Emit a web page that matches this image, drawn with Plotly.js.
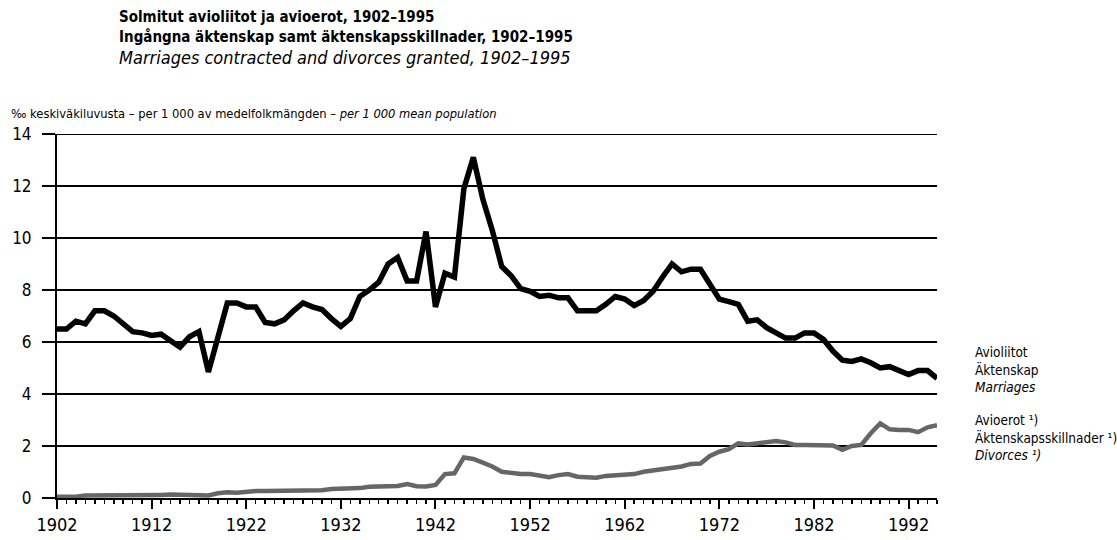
<!DOCTYPE html>
<html>
<head>
<meta charset="utf-8">
<script src="https://cdn.plot.ly/plotly-3.0.1.min.js"></script>
<style>
  html, body { margin: 0; padding: 0; background: #fff; }
  #chart { width: 1117px; height: 540px; }
  #chart text { font-stretch: condensed !important; }
</style>
</head>
<body>
<div id="chart"></div>
<script>
// ---- Data ----
const years = [];
for (let y = 1902; y <= 1995; y++) years.push(y);

const marriages = [
  6.5, 6.5, 6.8, 6.7, 7.2, 7.2, 7.0, 6.7, 6.4, 6.35,   // 1902-1911
  6.25, 6.3, 6.05, 5.8, 6.2, 6.4, 4.85, 6.2, 7.5, 7.5, // 1912-1921
  7.35, 7.35, 6.75, 6.7, 6.85, 7.2, 7.5, 7.35, 7.25, 6.9, // 1922-1931
  6.6, 6.9, 7.75, 8.0, 8.3, 9.0, 9.25, 8.35, 8.35, 10.25, // 1932-1941
  7.35, 8.65, 8.5, 11.9, 13.1, 11.5, 10.3, 8.9, 8.55, 8.05, // 1942-1951
  7.95, 7.75, 7.8, 7.7, 7.7, 7.2, 7.2, 7.2, 7.45, 7.75, // 1952-1961
  7.65, 7.4, 7.6, 7.95, 8.5, 9.0, 8.7, 8.8, 8.8, 8.2,   // 1962-1971
  7.65, 7.55, 7.45, 6.8, 6.85, 6.55, 6.35, 6.15, 6.15, 6.35, // 1972-1981
  6.35, 6.1, 5.65, 5.3, 5.25, 5.35, 5.2, 5.0, 5.05, 4.9, // 1982-1991
  4.75, 4.9, 4.9, 4.6                                    // 1992-1995
];

const divorces = [
  0.05, 0.03, 0.05, 0.1, 0.1, 0.08, 0.1, 0.1, 0.11, 0.12, // 1902-1911
  0.12, 0.12, 0.13, 0.13, 0.14, 0.12, 0.1, 0.18, 0.22, 0.2, // 1912-1921
  0.25, 0.27, 0.27, 0.27, 0.27, 0.27, 0.28, 0.3, 0.3, 0.35, // 1922-1931
  0.35, 0.35, 0.38, 0.43, 0.44, 0.44, 0.46, 0.54, 0.45, 0.44, // 1932-1941
  0.5, 0.92, 0.95, 1.56, 1.5, 1.36, 1.21, 1.01, 0.95, 0.92, // 1942-1951
  0.92, 0.85, 0.8, 0.88, 0.92, 0.82, 0.78, 0.78, 0.85, 0.88, // 1952-1961
  0.9, 0.92, 1.01, 1.05, 1.1, 1.14, 1.21, 1.31, 1.33, 1.62, // 1962-1971
  1.78, 1.88, 2.1, 2.06, 2.1, 2.14, 2.19, 2.14, 2.04, 2.04, // 1972-1981
  2.04, 2.04, 2.02, 1.85, 2.0, 2.04, 2.49, 2.87, 2.64, 2.62, // 1982-1991
  2.62, 2.53, 2.72, 2.8                                    // 1992-1995
];

const yTicks = [0, 2, 4, 6, 8, 10, 12, 14];
const xTicks = [1902, 1912, 1922, 1932, 1942, 1952, 1962, 1972, 1982, 1992];

const titleLines = [
  '<b>Solmitut avioliitot ja avioerot, 1902–1995</b>',
  '<b>Ingångna äktenskap samt äktenskapsskillnader, 1902–1995</b>',
  '<i>Marriages contracted and divorces granted, 1902–1995</i>'
];
const unitLabel = '‰ keskiväkiluvusta – per 1 000 av medelfolkmängden – <i>per 1 000 mean population</i>';
const marriagesLabel = 'Avioliitot<br>Äktenskap<br><i>Marriages</i>';
const divorcesLabel = 'Avioerot ¹)<br>Äktenskapsskillnader ¹)<br><i>Divorces ¹)</i>';

// ---- Layout geometry ----
const W = 1117, H = 540;
const L = 57, R = 937, T = 134, B = 498;
const px2x = px => (px - L) / (R - L);
const py2y = py => (B - py) / (B - T);
const FONT = '"DejaVu Sans Condensed", "DejaVu Sans", sans-serif';
const titleSizes = [15, 15, 18];

const traces = [
  {
    x: years, y: divorces, type: 'scatter', mode: 'lines',
    line: { color: '#666666', width: 4.5 },
    hoverinfo: 'skip', showlegend: false
  },
  {
    x: years, y: marriages, type: 'scatter', mode: 'lines',
    line: { color: '#000000', width: 5.5 },
    hoverinfo: 'skip', showlegend: false
  }
];

const ann = [];
titleLines.forEach((t, i) => {
  ann.push({
    text: t, xref: 'paper', yref: 'paper',
    x: px2x(117), y: py2y(17 + i * 20), xanchor: 'left', yanchor: 'middle',
    showarrow: false, font: { family: FONT, size: titleSizes[i], color: '#000' }
  });
});
ann.push({
  text: unitLabel, xref: 'paper', yref: 'paper',
  x: px2x(9), y: py2y(113), xanchor: 'left', yanchor: 'middle',
  showarrow: false, font: { family: FONT, size: 12.8, color: '#000' }
});
ann.push({
  text: marriagesLabel, xref: 'paper', yref: 'paper', align: 'left',
  x: px2x(973), y: py2y(369), xanchor: 'left', yanchor: 'middle',
  showarrow: false, font: { family: FONT, size: 13.5, color: '#000' }
});
ann.push({
  text: divorcesLabel, xref: 'paper', yref: 'paper', align: 'left',
  x: px2x(973), y: py2y(437), xanchor: 'left', yanchor: 'middle',
  showarrow: false, font: { family: FONT, size: 13.5, color: '#000' }
});

const layout = {
  width: W, height: H,
  margin: { l: L, r: W - R, t: T, b: H - B, pad: 0 },
  paper_bgcolor: '#fff', plot_bgcolor: '#fff',
  showlegend: false,
  font: { family: FONT, color: '#000' },
  xaxis: {
    range: [1902, 1995], tickvals: xTicks, ticktext: xTicks.map(String),
    showgrid: false, zeroline: false,
    showline: true, linecolor: '#000', linewidth: 2,
    ticks: 'outside', ticklen: 9, tickwidth: 2, tickcolor: '#000',
    tickfont: { family: FONT, size: 18, color: '#000' },
    minor: { dtick: 1, tick0: 1902, ticks: 'outside', ticklen: 4, tickwidth: 1.5, tickcolor: '#000', showgrid: false },
    fixedrange: true
  },
  yaxis: {
    range: [0, 14], tickvals: yTicks, ticktext: yTicks.map(String),
    showgrid: true, gridcolor: '#000', gridwidth: 2,
    zeroline: false,
    showline: true, linecolor: '#000', linewidth: 2,
    ticks: 'outside', ticklen: 13, tickwidth: 2, tickcolor: '#000',
    ticklabelstandoff: 7,
    tickfont: { family: FONT, size: 17, color: '#000' },
    fixedrange: true
  },
  shapes: [
    { type: 'line', xref: 'paper', yref: 'y', x0: 0, x1: 1, y0: 14, y1: 14,
      line: { color: '#000', width: 2 }, layer: 'below' }
  ],
  annotations: ann
};

Plotly.newPlot('chart', traces, layout, { staticPlot: true, displayModeBar: false });
</script>
</body>
</html>
